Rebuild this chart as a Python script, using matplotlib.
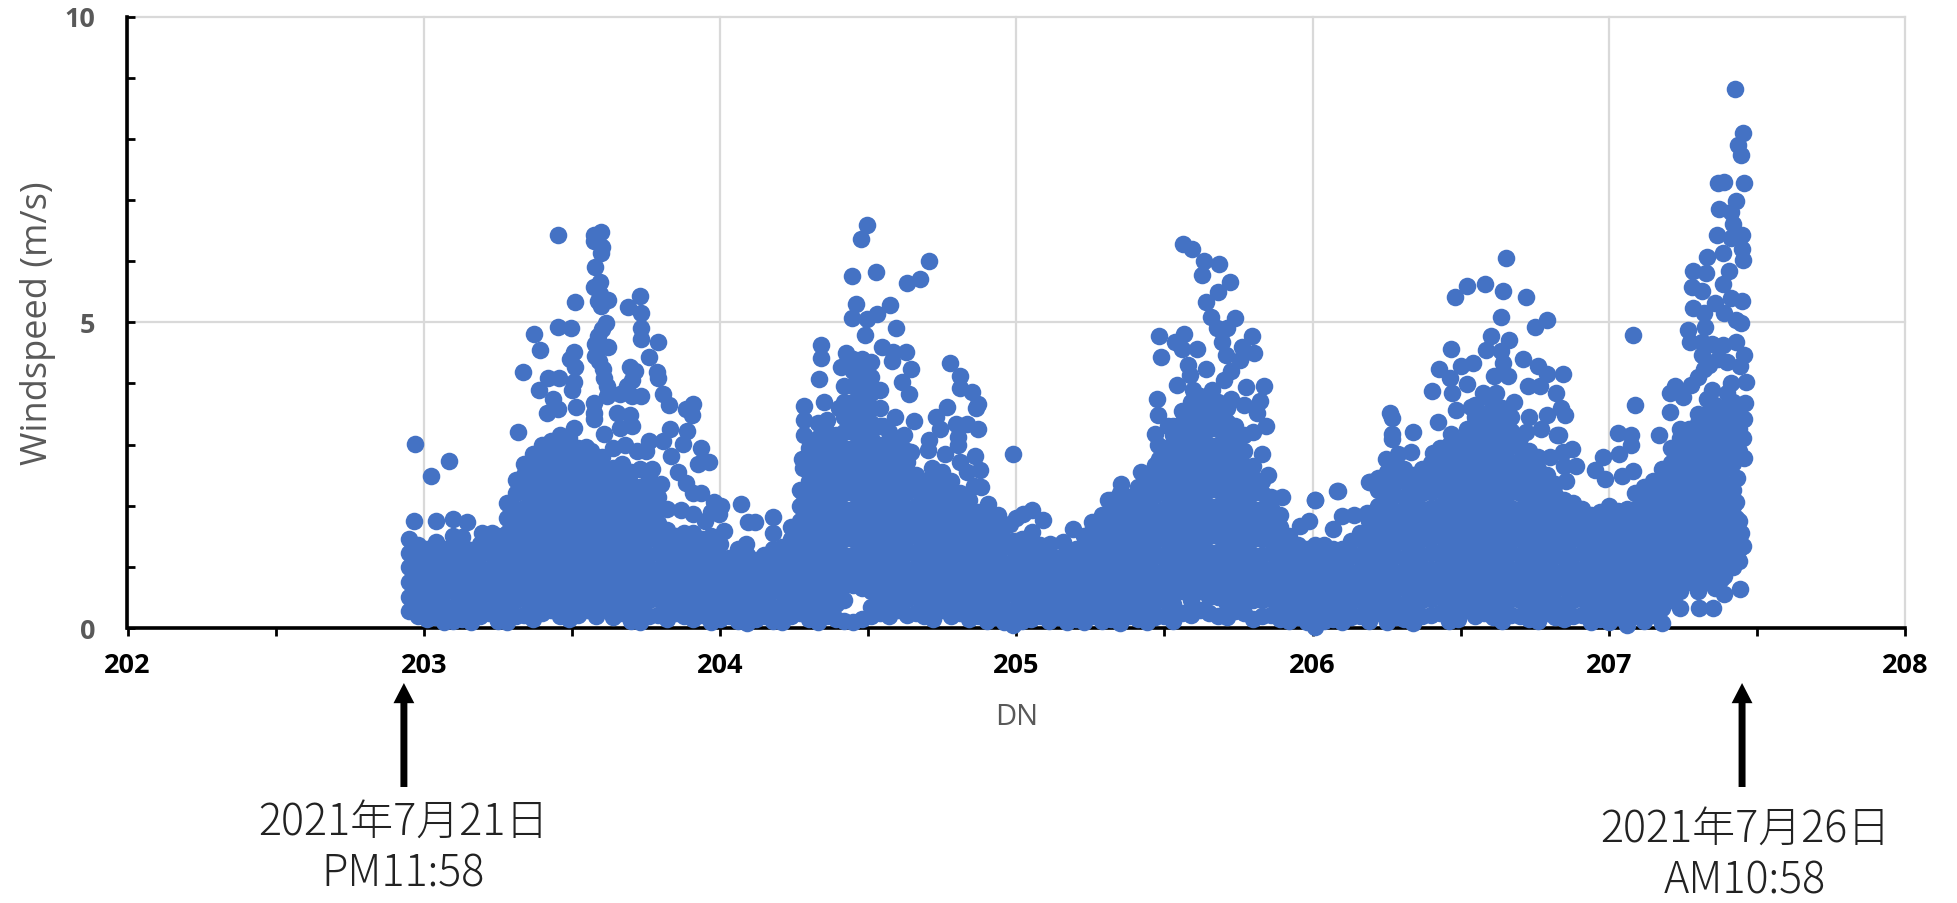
import matplotlib
matplotlib.use('Agg')
import matplotlib.pyplot as plt
from matplotlib.ticker import MultipleLocator

# dense part of the cloud, one list of speeds per DN column
dense_203 = {
    202.95: [.27, .5, .75, 1.0, 1.22, 1.45], 202.98: [.2, .42, .68, .9, 1.15, 1.36],
    203.01: [.15, .35, .6, .85, 1.1, 1.3], 203.04: [.18, .4, .65, .9, 1.15, 1.4],
    203.07: [.1, .32, .58, .8, 1.05, 1.3], 203.10: [.12, .35, .6, .85, 1.1, 1.35, 1.5],
    203.13: [.15, .4, .65, .9, 1.15, 1.35, 1.48], 203.16: [.1, .33, .57, .82, 1.05, 1.28],
    203.19: [.2, .45, .7, .95, 1.2, 1.38], 203.22: [.25, .5, .72, .97, 1.22, 1.42],
    203.25: [.12, .36, .6, .85, 1.1, 1.35, 1.5], 203.28: [.1, .3, .55, .8, 1.05, 1.3, 1.55, 1.8, 2.05],
    203.31: [.2, .45, .7, .95, 1.2, 1.45, 1.7, 1.95, 2.2, 2.42], 203.34: [.22, .47, .72, .97, 1.22, 1.47, 1.72, 1.97, 2.22, 2.5, 2.68],
    203.37: [.15, .4, .65, .9, 1.15, 1.4, 1.65, 1.9, 2.15, 2.4, 2.65, 2.85], 203.40: [.25, .5, .75, 1.0, 1.25, 1.5, 1.75, 2.0, 2.25, 2.5, 2.75, 3.0],
    203.43: [.3, .55, .8, 1.05, 1.3, 1.55, 1.8, 2.05, 2.3, 2.55, 2.8, 3.05], 203.46: [.2, .45, .7, .95, 1.2, 1.45, 1.7, 1.95, 2.2, 2.45, 2.7, 2.95, 3.15],
    203.49: [.15, .4, .65, .9, 1.15, 1.4, 1.65, 1.9, 2.15, 2.4, 2.65, 2.9, 3.1], 203.52: [.22, .47, .72, .97, 1.22, 1.47, 1.72, 1.97, 2.22, 2.47, 2.72, 2.95],
    203.55: [.3, .55, .8, 1.05, 1.3, 1.55, 1.8, 2.05, 2.3, 2.55, 2.72], 203.58: [.2, .45, .7, .95, 1.2, 1.45, 1.7, 1.95, 2.2, 2.45, 2.6],
    203.61: [.35, .6, .85, 1.1, 1.35, 1.6, 1.85, 2.1, 2.35, 2.55], 203.64: [.18, .42, .67, .92, 1.17, 1.42, 1.67, 1.92, 2.17, 2.42, 2.62],
    203.67: [.25, .5, .75, 1.0, 1.25, 1.5, 1.75, 2.0, 2.25, 2.5, 2.68], 203.70: [.12, .36, .6, .85, 1.1, 1.35, 1.6, 1.85, 2.1, 2.35, 2.55],
    203.73: [.1, .3, .55, .8, 1.05, 1.3, 1.55, 1.8, 2.05, 2.3, 2.6], 203.76: [.2, .45, .7, .95, 1.2, 1.45, 1.7, 1.95, 2.2, 2.45],
    203.79: [.22, .47, .72, .97, 1.22, 1.47, 1.72, 1.97, 2.15], 203.82: [.15, .4, .65, .9, 1.15, 1.4, 1.6, 1.95],
    203.85: [.25, .5, .75, 1.0, 1.25, 1.5], 203.88: [.2, .45, .7, .95, 1.2, 1.45, 1.55],
    203.91: [.15, .4, .65, .9, 1.15, 1.4, 1.55], 203.94: [.22, .47, .72, .97, 1.22, 1.45],
    203.97: [.1, .35, .6, .85, 1.1, 1.35, 1.5],
}

dense_204 = {
    204.00: [.15, .4, .65, .9, 1.15, 1.38], 204.03: [.2, .45, .7, .95, 1.15], 204.06: [.12, .35, .6, .85, 1.1, 1.3],
    204.09: [.08, .3, .55, .8, 1.05, 1.2], 204.12: [.15, .4, .65, .9, 1.12], 204.15: [.2, .45, .7, .95, 1.2],
    204.18: [.12, .35, .6, .85, 1.1, 1.3], 204.21: [.1, .32, .57, .82, 1.07, 1.32], 204.24: [.2, .45, .7, .95, 1.2, 1.45],
    204.27: [.25, .5, .75, 1.0, 1.25, 1.5, 1.75, 2.0, 2.25], 204.30: [.15, .4, .65, .9, 1.15, 1.4, 1.65, 1.9, 2.15, 2.4, 2.65, 2.95],
    204.33: [.1, .35, .6, .85, 1.1, 1.35, 1.6, 1.85, 2.1, 2.35, 2.6, 2.85, 3.1, 3.35],
    204.36: [.2, .45, .7, .95, 1.2, 1.45, 1.7, 1.95, 2.2, 2.45, 2.7, 2.95, 3.2, 3.4],
    204.39: [.15, .4, .65, .9, 1.15, 1.4, 1.65, 1.9, 2.15, 2.4, 2.65, 2.9, 3.15],
    204.42: [.12, .45, .7, .95, 1.2, 1.45, 1.7, 1.95, 2.2, 2.45, 2.7, 2.95, 3.2, 3.45, 3.7, 3.95],
    204.45: [.1, .7, .95, 1.2, 1.45, 1.7, 1.95, 2.2, 2.45, 2.7, 2.95, 3.2, 3.45, 3.7, 3.95, 4.2, 4.4],
    204.48: [.15, .65, .9, 1.15, 1.4, 1.65, 1.9, 2.15, 2.4, 2.65, 2.9, 3.15, 3.4, 3.65, 3.9, 4.15, 4.4],
    204.51: [.2, .35, .6, .85, 1.1, 1.35, 1.6, 1.85, 2.1, 2.35, 2.6, 2.85, 3.1, 3.35, 3.6, 3.85, 4.1, 4.35],
    204.54: [.25, .5, .75, 1.0, 1.25, 1.5, 1.75, 2.0, 2.25, 2.5, 2.75, 3.0, 3.3, 3.6, 3.9],
    204.57: [.2, .45, .7, .95, 1.2, 1.45, 1.7, 1.95, 2.2, 2.45, 2.7, 2.95, 3.2],
    204.60: [.3, .55, .8, 1.05, 1.3, 1.55, 1.8, 2.05, 2.3, 2.55, 2.8, 3.0], 204.63: [.22, .47, .72, .97, 1.22, 1.47, 1.72, 1.97, 2.22, 2.47, 2.72, 2.9],
    204.66: [.25, .5, .75, 1.0, 1.25, 1.5, 1.75, 2.0, 2.25, 2.5], 204.69: [.2, .45, .7, .95, 1.2, 1.45, 1.7, 1.95, 2.2, 2.4],
    204.72: [.15, .4, .65, .9, 1.15, 1.4, 1.65, 1.9, 2.15, 2.4], 204.75: [.3, .55, .8, 1.05, 1.3, 1.55, 1.8, 2.05, 2.3, 2.55],
    204.78: [.2, .45, .7, .95, 1.2, 1.45, 1.7, 1.95, 2.2, 2.4], 204.81: [.25, .5, .75, 1.0, 1.25, 1.5, 1.75, 2.0, 2.2],
    204.84: [.15, .4, .65, .9, 1.15, 1.4, 1.65, 1.9, 2.1], 204.87: [.2, .45, .7, .95, 1.2, 1.45, 1.7, 1.9],
    204.90: [.12, .36, .6, .85, 1.1, 1.35, 1.6, 1.8], 204.93: [.18, .42, .67, .92, 1.17, 1.42, 1.55],
    204.96: [.1, .32, .57, .82, 1.07, 1.32, 1.45],
}

dense_205 = {
    204.99: [.05, .3, .55, .8, 1.05, 1.3, 1.42], 205.02: [.12, .36, .6, .85, 1.1, 1.35, 1.45], 205.05: [.15, .4, .65, .9, 1.15, 1.38],
    205.08: [.2, .45, .7, .95, 1.2, 1.35], 205.11: [.12, .35, .6, .85, 1.1, 1.22], 205.14: [.18, .42, .67, .92, 1.15],
    205.17: [.1, .33, .57, .82, 1.07, 1.2], 205.20: [.15, .4, .65, .9, 1.15, 1.3], 205.23: [.1, .35, .6, .85, 1.1, 1.35, 1.5],
    205.26: [.2, .45, .7, .95, 1.2, 1.45, 1.65], 205.29: [.12, .36, .6, .85, 1.1, 1.35, 1.6, 1.85], 205.32: [.15, .4, .65, .9, 1.15, 1.4, 1.65, 1.9, 2.1],
    205.35: [.08, .33, .57, .82, 1.07, 1.32, 1.57, 1.82, 2.07, 2.2], 205.38: [.2, .45, .7, .95, 1.2, 1.45, 1.7, 1.95, 2.15],
    205.41: [.15, .4, .65, .9, 1.15, 1.4, 1.65, 1.9, 2.15, 2.3], 205.44: [.1, .35, .6, .85, 1.1, 1.35, 1.6, 1.85, 2.1, 2.35, 2.5],
    205.47: [.18, .42, .67, .92, 1.17, 1.42, 1.67, 1.92, 2.17, 2.42, 2.67], 205.50: [.2, .45, .7, .95, 1.2, 1.45, 1.7, 1.95, 2.2, 2.45, 2.7, 2.95],
    205.53: [.12, .4, .65, .9, 1.15, 1.4, 1.65, 1.9, 2.15, 2.4, 2.65, 2.9, 3.15, 3.3], 205.56: [.25, .6, .85, 1.1, 1.35, 1.6, 1.85, 2.1, 2.35, 2.6, 2.85, 3.1, 3.35, 3.55],
    205.59: [.22, .45, .7, .95, 1.2, 1.45, 1.7, 1.95, 2.2, 2.45, 2.7, 2.95, 3.2, 3.45, 3.7], 205.62: [.3, .6, .85, 1.1, 1.35, 1.6, 1.85, 2.1, 2.35, 2.6, 2.85, 3.1, 3.35, 3.6, 3.8],
    205.65: [.25, .5, .75, 1.0, 1.25, 1.5, 1.75, 2.0, 2.25, 2.5, 2.75, 3.0, 3.25, 3.5, 3.75], 205.68: [.2, .5, .75, 1.0, 1.25, 1.5, 1.75, 2.0, 2.25, 2.5, 2.75, 3.0, 3.25, 3.5, 3.7],
    205.71: [.18, .4, .62, .87, 1.12, 1.37, 1.62, 1.87, 2.12, 2.37, 2.62, 2.87, 3.12, 3.37, 3.6], 205.74: [.28, .55, .8, 1.05, 1.3, 1.55, 1.8, 2.05, 2.3, 2.55, 2.8, 3.05, 3.3],
    205.77: [.25, .42, .65, .9, 1.15, 1.4, 1.65, 1.9, 2.15, 2.4, 2.65, 2.9, 3.15], 205.80: [.15, .45, .7, .95, 1.2, 1.45, 1.7, 1.95, 2.2, 2.45, 2.65],
    205.83: [.2, .45, .7, .95, 1.2, 1.45, 1.7, 1.95, 2.2, 2.4], 205.86: [.22, .47, .72, .97, 1.22, 1.47, 1.72, 1.97, 2.15],
    205.89: [.15, .4, .65, .9, 1.15, 1.4, 1.65, 1.85], 205.92: [.12, .36, .6, .85, 1.1, 1.35, 1.5], 205.95: [.18, .42, .67, .92, 1.17, 1.35],
    205.98: [.1, .33, .57, .82, 1.07, 1.3],
}

dense_206 = {
    206.01: [.02, .25, .5, .75, 1.0, 1.25, 1.35], 206.04: [.12, .36, .6, .85, 1.1, 1.35], 206.07: [.15, .4, .65, .9, 1.15, 1.3],
    206.10: [.1, .33, .57, .82, 1.07, 1.3], 206.13: [.18, .42, .67, .92, 1.17, 1.42], 206.16: [.2, .45, .7, .95, 1.2, 1.45, 1.55],
    206.19: [.12, .36, .6, .85, 1.1, 1.35, 1.6, 1.75], 206.22: [.25, .5, .75, 1.0, 1.25, 1.5, 1.75, 2.0, 2.25, 2.45],
    206.25: [.1, .35, .6, .85, 1.1, 1.35, 1.6, 1.85, 2.1, 2.35, 2.55], 206.28: [.18, .42, .67, .92, 1.17, 1.42, 1.67, 1.92, 2.17, 2.42, 2.6],
    206.31: [.15, .4, .65, .9, 1.15, 1.4, 1.65, 1.9, 2.15, 2.4, 2.6], 206.34: [.08, .33, .57, .82, 1.07, 1.32, 1.57, 1.82, 2.07, 2.32, 2.5],
    206.37: [.2, .45, .7, .95, 1.2, 1.45, 1.7, 1.95, 2.2, 2.45, 2.6], 206.40: [.22, .47, .72, .97, 1.22, 1.47, 1.72, 1.97, 2.22, 2.47, 2.7],
    206.43: [.25, .5, .75, 1.0, 1.25, 1.5, 1.75, 2.0, 2.25, 2.5, 2.75, 2.95], 206.46: [.12, .36, .6, .85, 1.1, 1.35, 1.6, 1.85, 2.1, 2.35, 2.6, 2.85, 3.0],
    206.49: [.15, .4, .65, .9, 1.15, 1.4, 1.65, 1.9, 2.15, 2.4, 2.65, 2.9, 3.05], 206.52: [.3, .55, .8, 1.05, 1.3, 1.55, 1.8, 2.05, 2.3, 2.55, 2.8, 3.05, 3.25],
    206.55: [.2, .45, .7, .95, 1.2, 1.45, 1.7, 1.95, 2.2, 2.45, 2.7, 2.95, 3.2, 3.45], 206.58: [.25, .5, .75, 1.0, 1.25, 1.5, 1.75, 2.0, 2.25, 2.5, 2.75, 3.0, 3.25, 3.5],
    206.61: [.18, .42, .67, .92, 1.17, 1.42, 1.67, 1.92, 2.17, 2.42, 2.67, 2.92, 3.17, 3.42, 3.65], 206.64: [.12, .36, .6, .85, 1.1, 1.35, 1.6, 1.85, 2.1, 2.35, 2.6, 2.85, 3.1, 3.35, 3.6],
    206.67: [.22, .47, .72, .97, 1.22, 1.47, 1.72, 1.97, 2.22, 2.47, 2.72, 2.97, 3.22, 3.45], 206.70: [.2, .45, .7, .95, 1.2, 1.45, 1.7, 1.95, 2.2, 2.45, 2.7, 2.95, 3.1],
    206.73: [.15, .4, .65, .9, 1.15, 1.4, 1.65, 1.9, 2.15, 2.4, 2.65, 2.9], 206.76: [.12, .36, .6, .85, 1.1, 1.35, 1.6, 1.85, 2.1, 2.35, 2.6, 2.8],
    206.79: [.25, .5, .75, 1.0, 1.25, 1.5, 1.75, 2.0, 2.25, 2.5], 206.82: [.18, .42, .67, .92, 1.17, 1.42, 1.67, 1.92, 2.17, 2.35],
    206.85: [.15, .4, .65, .9, 1.15, 1.4, 1.65, 1.9, 2.1], 206.88: [.2, .45, .7, .95, 1.2, 1.45, 1.7, 1.95, 2.05],
    206.91: [.22, .47, .72, .97, 1.22, 1.47, 1.72, 1.95], 206.94: [.1, .35, .6, .85, 1.1, 1.35, 1.6, 1.85], 206.97: [.15, .4, .65, .9, 1.15, 1.4, 1.65, 1.9],
}

dense_207 = {
    207.00: [.1, .33, .57, .82, 1.07, 1.32, 1.57, 1.82, 2.0], 207.03: [.18, .42, .67, .92, 1.17, 1.42, 1.67, 1.92], 207.06: [.05, .3, .55, .8, 1.05, 1.3, 1.55, 1.8, 1.95],
    207.09: [.2, .45, .7, .95, 1.2, 1.45, 1.7, 1.95, 2.2], 207.12: [.12, .36, .6, .85, 1.1, 1.35, 1.6, 1.85, 2.1, 2.3], 207.15: [.22, .47, .72, .97, 1.22, 1.47, 1.72, 1.97, 2.22, 2.4],
    207.18: [.08, .33, .57, .82, 1.07, 1.32, 1.57, 1.82, 2.07, 2.32, 2.6], 207.21: [.45, .7, .95, 1.2, 1.45, 1.7, 1.95, 2.2, 2.45, 2.7, 2.95],
    207.24: [.6, .85, 1.1, 1.35, 1.6, 1.85, 2.1, 2.35, 2.6, 2.85, 3.1, 3.25], 207.27: [.75, 1.0, 1.25, 1.5, 1.75, 2.0, 2.25, 2.5, 2.75, 3.0, 3.25],
    207.30: [.6, .85, 1.1, 1.35, 1.6, 1.85, 2.1, 2.35, 2.6, 2.85, 3.1, 3.35, 3.5], 207.33: [.75, 1.0, 1.25, 1.5, 1.75, 2.0, 2.25, 2.5, 2.75, 3.0, 3.25, 3.5, 3.75],
    207.36: [.65, .9, 1.15, 1.4, 1.65, 1.9, 2.15, 2.4, 2.65, 2.9, 3.15, 3.4, 3.65], 207.39: [.85, 1.1, 1.35, 1.6, 1.85, 2.1, 2.35, 2.6, 2.85, 3.1, 3.35, 3.6],
    207.42: [1.0, 1.25, 1.5, 1.75, 2.0, 2.25, 2.7, 2.95, 3.2, 3.45, 3.7], 207.44: [1.1, 1.3, 1.5, 1.75, 2.9, 3.25, 3.55],
}

# single points above the cloud (DN, speed)
peak_203 = [
    (202.971, 3.01), (203.026, 2.48), (203.086, 2.73), (202.967, 1.75), (203.041, 1.75), (203.1, 1.79), (203.145, 1.73), (203.196, 1.55), (203.23, 1.55),
    (203.317, 3.21), (203.336, 4.18), (203.372, 4.8), (203.392, 4.54), (203.39, 3.89), (203.42, 4.09), (203.458, 4.09), (203.416, 3.51), (203.454, 3.58),
    (203.437, 3.75), (203.453, 4.93), (203.496, 4.91), (203.511, 5.33), (203.506, 4.51), (203.494, 4.4), (203.51, 4.27), (203.506, 4.03), (203.502, 3.89),
    (203.513, 3.62), (203.506, 3.27), (203.454, 6.42), (203.575, 6.42), (203.597, 6.48), (203.575, 6.33), (203.6, 6.23), (203.597, 6.13), (203.577, 5.9),
    (203.594, 5.66), (203.575, 5.57), (203.594, 5.47), (203.587, 5.35), (203.623, 5.37), (203.597, 5.26), (203.616, 4.99), (203.6, 4.89), (203.587, 4.78),
    (203.577, 4.65), (203.623, 4.6), (203.577, 4.44), (203.592, 4.36), (203.604, 4.23), (203.608, 4.09), (203.618, 3.96), (203.575, 3.68), (203.575, 3.51),
    (203.575, 3.41), (203.618, 3.79), (203.661, 3.82), (203.652, 3.51), (203.704, 3.79), (203.735, 3.8), (203.697, 3.48), (203.704, 3.3), (203.661, 3.27),
    (203.609, 3.17), (203.73, 5.43), (203.69, 5.25), (203.735, 5.15), (203.732, 4.9), (203.732, 4.73), (203.792, 4.67), (203.761, 4.43), (203.695, 4.27),
    (203.712, 4.2), (203.704, 4.06), (203.687, 3.96), (203.787, 4.18), (203.79, 4.09), (203.807, 3.82), (203.828, 3.65), (203.885, 3.58), (203.91, 3.67),
    (203.907, 3.48), (203.83, 3.25), (203.888, 3.22), (203.76, 3.06), (203.807, 3.06), (203.876, 3.01), (203.936, 2.94), (203.721, 2.89), (203.833, 2.82),
    (203.927, 2.68), (203.962, 2.72), (203.566, 2.89), (203.549, 2.96), (203.859, 2.55), (203.885, 2.37), (203.91, 2.2), (203.936, 2.2), (203.979, 2.06),
    (203.997, 1.86), (204.005, 2.0), (203.868, 1.93), (203.91, 1.86), (204.014, 1.58), (203.8, 2.35), (203.77, 2.6), (203.75, 2.9), (203.68, 3.0),
    (203.64, 2.95), (203.6, 2.8), (203.95, 1.75), (203.97, 1.9),
]
peak_204 = [
    (204.495, 6.59), (204.477, 6.36), (204.446, 5.76), (204.526, 5.82), (204.706, 6.0), (204.676, 5.71), (204.63, 5.64), (204.46, 5.3), (204.575, 5.29),
    (204.445, 5.07), (204.53, 5.14), (204.495, 5.06), (204.593, 4.91), (204.49, 4.79), (204.34, 4.63), (204.34, 4.41), (204.427, 4.49), (204.547, 4.6),
    (204.585, 4.51), (204.627, 4.51), (204.58, 4.36), (204.645, 4.24), (204.41, 4.27), (204.333, 4.08), (204.777, 4.34), (204.811, 4.12), (204.615, 4.02),
    (204.811, 3.92), (204.852, 3.86), (204.638, 3.83), (204.87, 3.67), (204.864, 3.59), (204.766, 3.61), (204.729, 3.45), (204.59, 3.45), (204.656, 3.38),
    (204.284, 3.63), (204.284, 3.4), (204.284, 3.16), (204.796, 3.34), (204.834, 3.34), (204.872, 3.25), (204.744, 3.26), (204.804, 3.12), (204.706, 3.07),
    (204.804, 2.99), (204.701, 2.91), (204.759, 2.84), (204.86, 2.82), (204.646, 2.88), (204.276, 2.77), (204.279, 2.61), (204.716, 2.61), (204.811, 2.72),
    (204.879, 2.59), (204.834, 2.55), (204.989, 2.85), (204.857, 2.33), (204.279, 2.2), (204.756, 2.42), (204.906, 2.03), (204.072, 2.03), (204.178, 1.82),
    (204.095, 1.73), (204.118, 1.74), (204.238, 1.65), (205.053, 1.93), (205.023, 1.87), (205.09, 1.76), (205.053, 1.57), (204.947, 1.68), (205.193, 1.62),
    (205.256, 1.73), (205.113, 1.38), (205.158, 1.41), (204.178, 1.55), (204.088, 1.38), (204.4, 3.6), (204.46, 4.0), (204.5, 3.9), (204.35, 3.7),
    (204.55, 3.3), (204.62, 3.15), (204.88, 2.3), (204.94, 1.85), (204.98, 1.7), (205.0, 1.8),
]
peak_205 = [
    (205.563, 6.28), (205.594, 6.19), (205.634, 6.0), (205.683, 5.95), (205.626, 5.78), (205.72, 5.66), (205.682, 5.49), (205.639, 5.33), (205.658, 5.09),
    (205.739, 5.07), (205.679, 4.9), (205.71, 4.9), (205.483, 4.77), (205.566, 4.81), (205.795, 4.78), (205.694, 4.68), (205.535, 4.68), (205.558, 4.57),
    (205.611, 4.57), (205.762, 4.6), (205.804, 4.49), (205.49, 4.43), (205.709, 4.46), (205.581, 4.3), (205.754, 4.38), (205.641, 4.23), (205.724, 4.21),
    (205.588, 4.13), (205.837, 3.95), (205.543, 3.97), (205.777, 3.94), (205.597, 3.89), (205.475, 3.74), (205.822, 3.72), (205.603, 3.7), (205.724, 3.75),
    (205.479, 3.48), (205.814, 3.51), (205.588, 3.48), (205.513, 3.3), (205.842, 3.3), (205.47, 3.18), (205.479, 2.99), (205.483, 2.77), (205.422, 2.55),
    (205.354, 2.36), (205.309, 2.09), (205.897, 2.14), (206.01, 2.1), (206.086, 2.24), (206.192, 2.38), (205.988, 1.75), (205.958, 1.66), (206.07, 1.62),
    (206.101, 1.83), (206.139, 1.85), (206.184, 1.88), (205.66, 3.9), (205.7, 4.05), (205.77, 3.65), (205.8, 3.2), (205.83, 2.85), (205.85, 2.5),
]
peak_206 = [
    (206.653, 6.05), (206.521, 5.59), (206.482, 5.42), (206.582, 5.62), (206.644, 5.51), (206.72, 5.41), (206.635, 5.08), (206.793, 5.03), (206.752, 4.93),
    (206.603, 4.78), (206.663, 4.71), (206.467, 4.56), (206.585, 4.54), (206.635, 4.53), (206.712, 4.4), (206.644, 4.33), (206.542, 4.33), (206.5, 4.29),
    (206.426, 4.23), (206.762, 4.28), (206.79, 4.15), (206.844, 4.16), (206.465, 4.09), (206.612, 4.12), (206.66, 4.12), (206.521, 3.99), (206.727, 3.96),
    (206.769, 3.96), (206.402, 3.88), (206.472, 3.84), (206.574, 3.84), (206.822, 3.84), (206.62, 3.84), (206.486, 3.57), (206.84, 3.59), (206.535, 3.62),
    (206.854, 3.49), (206.79, 3.49), (206.263, 3.52), (206.269, 3.43), (206.422, 3.37), (206.269, 3.18), (206.269, 3.09), (206.34, 3.21), (206.467, 3.18),
    (206.833, 3.15), (206.248, 2.76), (206.288, 2.84), (206.334, 2.87), (206.408, 2.86), (206.193, 2.38), (206.082, 2.24), (206.008, 2.1), (206.55, 3.65),
    (206.6, 3.75), (206.68, 3.7), (206.73, 3.45), (206.77, 3.25), (206.55, 3.35), (206.72, 3.2), (206.8, 2.8), (206.85, 2.65),
]
peak_207 = [
    (207.426, 8.82), (207.453, 8.09), (207.435, 7.9), (207.445, 7.73), (207.456, 7.28), (207.368, 7.28), (207.388, 7.29), (207.428, 6.98), (207.371, 6.86),
    (207.411, 6.81), (207.421, 6.61), (207.367, 6.43), (207.449, 6.43), (207.414, 6.37), (207.449, 6.19), (207.385, 6.13), (207.452, 6.01), (207.331, 6.06),
    (207.286, 5.84), (207.407, 5.84), (207.329, 5.81), (207.385, 5.62), (207.282, 5.58), (207.314, 5.51), (207.414, 5.4), (207.449, 5.34), (207.36, 5.31),
    (207.286, 5.23), (207.39, 5.15), (207.322, 5.15), (207.431, 5.03), (207.446, 4.98), (207.326, 4.93), (207.269, 4.87), (207.275, 4.68), (207.314, 4.68),
    (207.35, 4.65), (207.428, 4.67), (207.385, 4.62), (207.456, 4.46), (207.314, 4.46), (207.442, 4.29), (207.322, 4.24), (207.463, 4.03), (207.414, 4.0),
    (207.279, 3.98), (207.225, 3.96), (207.208, 3.84), (207.251, 3.78), (207.46, 3.68), (207.456, 3.42), (207.208, 3.53), (207.452, 3.11), (207.17, 3.15),
    (207.456, 2.78), (207.432, 2.45), (207.428, 2.06), (207.453, 1.34), (207.442, 0.63), (207.39, 0.56), (207.353, 0.32), (207.305, 0.32), (207.241, 0.32),
    (207.081, 4.79), (207.088, 3.64), (207.031, 3.19), (207.076, 3.15), (207.074, 2.99), (207.034, 2.84), (206.982, 2.79), (206.953, 2.59), (207.081, 2.57),
    (207.045, 2.49), (206.989, 2.43), (206.857, 2.4), (206.89, 2.65), (206.875, 2.92), (206.826, 3.15), (206.847, 2.87), (207.34, 4.3), (207.37, 4.4),
    (207.4, 4.35), (207.3, 4.1), (207.35, 3.9), (207.4, 3.85), (207.43, 3.4), (207.42, 2.95), (207.43, 1.8), (207.445, 1.55), (207.38, 0.8),
]

x_ticks_major = [202, 203, 204, 205, 206, 207, 208]
y_ticks_major = [0, 5, 10]
start_note = '2021年7月21日\nPM11:58'
end_note = '2021年7月26日\nAM10:58'
start_dn = 202.933
end_dn = 207.45

plt.rcParams['font.family'] = ['Noto Sans CJK JP', 'DejaVu Sans']

fig = plt.figure(figsize=(19.57, 9.04), dpi=100)
ax = fig.add_axes([127.5 / 1957, 1 - 629 / 904, (1905 - 127.5) / 1957, (629 - 17.5) / 904])

dn = []
speed = []
for day in (dense_203, dense_204, dense_205, dense_206, dense_207):
    for col, values in day.items():
        dn += [col] * len(values)
        speed += values
for day in (peak_203, peak_204, peak_205, peak_206, peak_207):
    dn += [p[0] for p in day]
    speed += [p[1] for p in day]

ax.scatter(dn, speed, s=160, color='#4472C4', linewidths=0, zorder=3, clip_on=False)

ax.set_xlim(202, 208)
ax.set_ylim(0, 10)
ax.set_xticks(x_ticks_major)
ax.set_yticks(y_ticks_major)
ax.xaxis.set_minor_locator(MultipleLocator(0.5))
ax.yaxis.set_minor_locator(MultipleLocator(1))
ax.grid(True, which='major', color='#D9D9D9', linewidth=1.6, clip_on=False)
ax.set_axisbelow(True)

for side in ('top', 'right'):
    ax.spines[side].set_visible(False)
for side in ('left', 'bottom'):
    ax.spines[side].set_linewidth(2.6)
    ax.spines[side].set_color('black')

ax.tick_params(axis='x', which='both', direction='out', length=6, width=2, color='black', pad=11)
ax.tick_params(axis='y', which='both', direction='in', length=6, width=2, color='black', pad=23)
for label in ax.get_xticklabels():
    label.set_fontfamily('Open Sans')
    label.set_fontweight('bold')
    label.set_fontsize(19.5)
    label.set_color('black')
for label in ax.get_yticklabels():
    label.set_fontfamily('Open Sans')
    label.set_fontweight('bold')
    label.set_fontsize(19.5)
    label.set_color('#595959')

ax.set_ylabel('Windspeed (m/s)', fontsize=26, color='#595959', family='Open Sans')
ax.yaxis.set_label_coords(-0.0403, 0.5)
ax.set_xlabel('DN', fontsize=21, color='#595959', family='Open Sans')
ax.xaxis.set_label_coords(0.5, -0.121)

# arrows and notes under the axis
arrow = dict(facecolor='black', edgecolor='none', width=5, headwidth=15, headlength=14.5, shrink=0)
ax.annotate('', xy=(start_dn, -0.09), xytext=(start_dn, -0.26), xycoords=('data', 'axes fraction'),
            textcoords=('data', 'axes fraction'), arrowprops=arrow)
ax.annotate('', xy=(end_dn, -0.09), xytext=(end_dn, -0.26), xycoords=('data', 'axes fraction'),
            textcoords=('data', 'axes fraction'), arrowprops=arrow)

fig.text(403 / 1957, 1 - 848 / 904, start_note, ha='center', va='center', fontsize=31, color='#222222',
         linespacing=1.2, fontweight='light')
fig.text(1745 / 1957, 1 - 855 / 904, end_note, ha='center', va='center', fontsize=31, color='#222222',
         linespacing=1.2, fontweight='light')

fig.savefig('out.png', dpi=100)
